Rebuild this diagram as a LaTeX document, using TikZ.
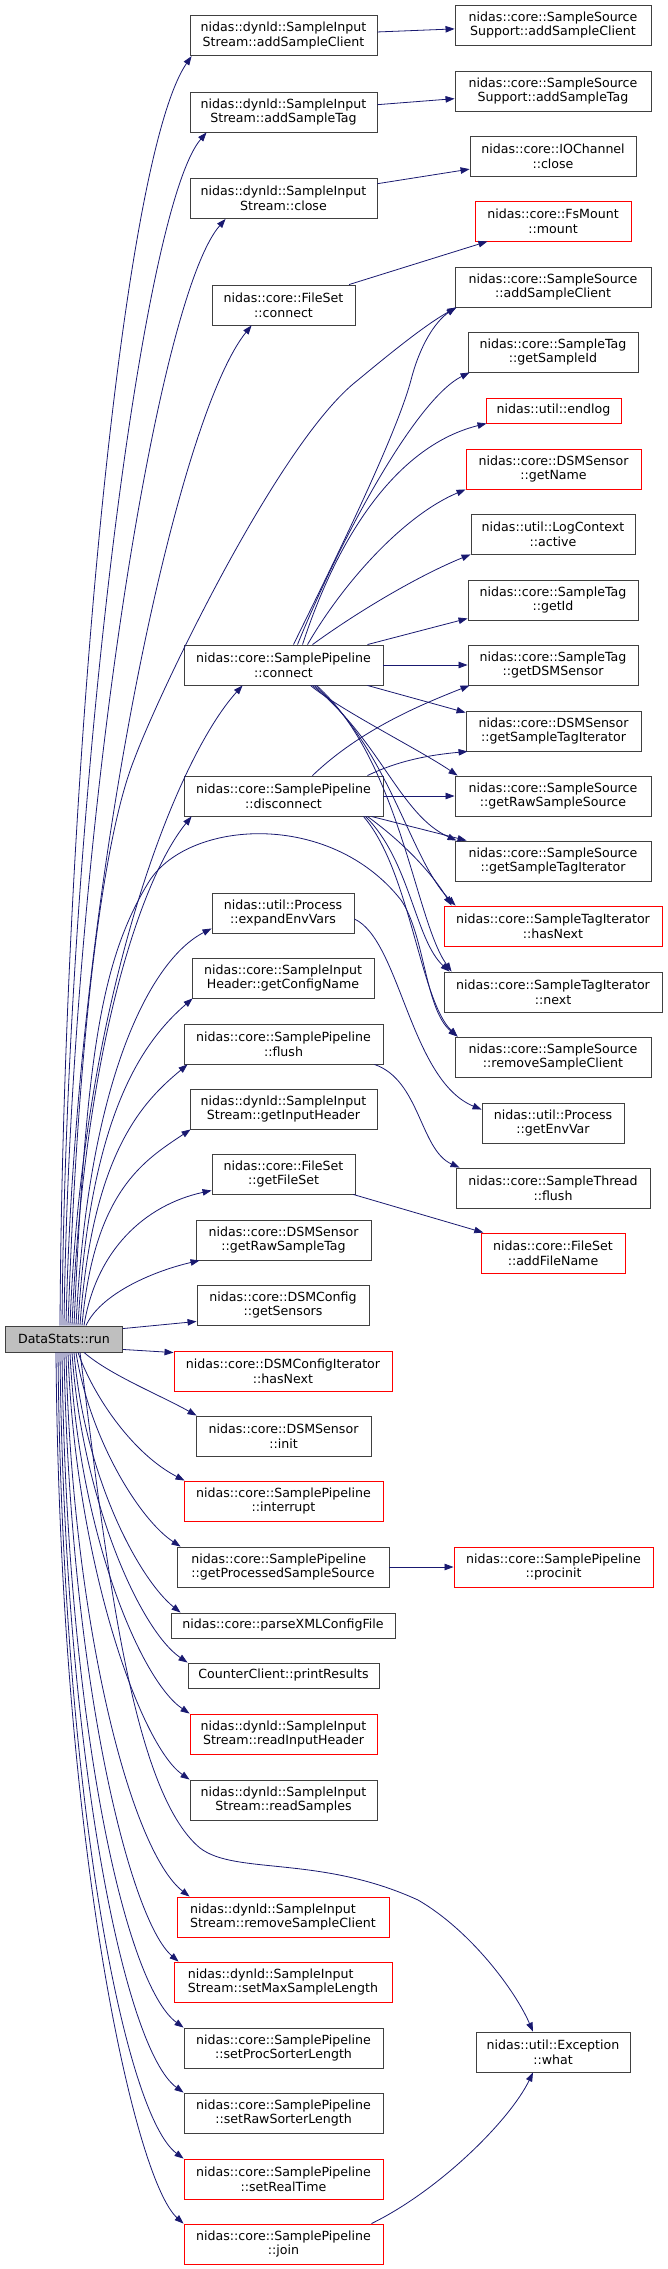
\documentclass[tikz,border=0pt]{standalone}
\usepackage{fontspec}
\setmainfont{DejaVu Sans}
\usetikzlibrary{arrows.meta}
\definecolor{edgec}{HTML}{191970}
\definecolor{boxc}{HTML}{404040}
\definecolor{redc}{HTML}{FF0000}
\definecolor{rootfill}{HTML}{BFBFBF}
\begin{document}
\begin{tikzpicture}[x=1pt,y=-1pt,
  fn/.style={draw=boxc, line width=0.9pt, fill=white, inner sep=0pt, align=center,
    minimum height=40pt, font=\fontsize{12.6pt}{14.7pt}\selectfont},
  fnl/.style={fn, align=left},
  single/.style={minimum height=25pt},
  redbox/.style={draw=redc},
  root/.style={fn, fill=rootfill, minimum height=26pt},
  conn/.style={draw=edgec, line width=0.8pt, -{Triangle[length=9pt,width=6.5pt]}}
]
\useasboundingbox (0,0) rectangle (667,2269);

% root
\node[root, minimum width=117pt] (L) at (64,1339) {DataStats::run};

% middle column
\node[fn, minimum width=187pt] (A1) at (283.5,35.7) {nidas::dynld::SampleInput\\Stream::addSampleClient};
\node[fn, minimum width=187pt] (A2) at (283.5,112) {nidas::dynld::SampleInput\\Stream::addSampleTag};
\node[fn, minimum width=187pt] (A3) at (283.5,198.5) {nidas::dynld::SampleInput\\Stream::close};
\node[fn, minimum width=143pt] (A4) at (283.5,305) {nidas::core::FileSet\\::connect};
\node[fn, minimum width=199pt] (A5) at (283.5,665) {nidas::core::SamplePipeline\\::connect};
\node[fn, minimum width=199pt] (A6) at (283.5,796) {nidas::core::SamplePipeline\\::disconnect};
\node[fn, minimum width=142pt] (A7) at (283,913) {nidas::util::Process\\::expandEnvVars};
\node[fn, minimum width=182pt] (A8) at (283,978) {nidas::core::SampleInput\\Header::getConfigName};
\node[fn, minimum width=199pt] (A9) at (283.5,1044) {nidas::core::SamplePipeline\\::flush};
\node[fn, minimum width=187pt] (A10) at (283.5,1109) {nidas::dynld::SampleInput\\Stream::getInputHeader};
\node[fn, minimum width=143pt] (A11) at (283.5,1174) {nidas::core::FileSet\\::getFileSet};
\node[fn, minimum width=175pt] (A12) at (283.5,1240) {nidas::core::DSMSensor\\::getRawSampleTag};
\node[fn, minimum width=172pt] (A13) at (283,1305) {nidas::core::DSMConfig\\::getSensors};
\node[fn, redbox, minimum width=218pt] (A14) at (283,1371) {nidas::core::DSMConfigIterator\\::hasNext};
\node[fn, minimum width=175pt] (A15) at (283.5,1436) {nidas::core::DSMSensor\\::init};
\node[fn, redbox, minimum width=199pt] (A16) at (283.5,1501) {nidas::core::SamplePipeline\\::interrupt};
\node[fnl, minimum width=212pt] (A17) at (283,1567) {nidas::core::SamplePipeline\\::getProcessedSampleSource};
\node[fn, single, minimum width=224pt] (A18) at (283,1625.5) {nidas::core::parseXMLConfigFile};
\node[fn, single, minimum width=191pt] (A19) at (283.5,1675.5) {CounterClient::printResults};
\node[fn, redbox, minimum width=187pt] (A20) at (283.5,1734) {nidas::dynld::SampleInput\\Stream::readInputHeader};
\node[fn, minimum width=187pt] (A21) at (283.5,1800) {nidas::dynld::SampleInput\\Stream::readSamples};
\node[fnl, redbox, minimum width=212pt] (A22) at (283,1917) {nidas::dynld::SampleInput\\Stream::removeSampleClient};
\node[fnl, redbox, minimum width=218pt] (A23) at (283,1982) {nidas::dynld::SampleInput\\Stream::setMaxSampleLength};
\node[fn, minimum width=199pt] (A24) at (283.5,2048) {nidas::core::SamplePipeline\\::setProcSorterLength};
\node[fn, minimum width=199pt] (A25) at (283.5,2113) {nidas::core::SamplePipeline\\::setRawSorterLength};
\node[fn, redbox, minimum width=199pt] (A26) at (283.5,2179) {nidas::core::SamplePipeline\\::setRealTime};
\node[fn, redbox, minimum width=199pt] (A27) at (283.5,2244) {nidas::core::SamplePipeline\\::join};

% right column
\node[fn, minimum width=196pt] (R1) at (553,25) {nidas::core::SampleSource\\Support::addSampleClient};
\node[fn, minimum width=196pt] (R2) at (553,91) {nidas::core::SampleSource\\Support::addSampleTag};
\node[fn, minimum width=166pt] (R3) at (553,156) {nidas::core::IOChannel\\::close};
\node[fn, redbox, minimum width=156pt] (R4) at (553,221) {nidas::core::FsMount\\::mount};
\node[fn, minimum width=196pt] (R5) at (553,287) {nidas::core::SampleSource\\::addSampleClient};
\node[fn, minimum width=170pt] (R6) at (553,352) {nidas::core::SampleTag\\::getSampleId};
\node[fn, single, redbox, minimum width=135pt] (R7) at (553.5,410.5) {nidas::util::endlog};
\node[fn, redbox, minimum width=175pt] (R8) at (553.5,469) {nidas::core::DSMSensor\\::getName};
\node[fn, minimum width=164pt] (R9) at (553,534) {nidas::util::LogContext\\::active};
\node[fn, minimum width=170pt] (R10) at (553,600) {nidas::core::SampleTag\\::getId};
\node[fn, minimum width=170pt] (R11) at (553,665) {nidas::core::SampleTag\\::getDSMSensor};
\node[fn, minimum width=175pt] (R12) at (553.5,731) {nidas::core::DSMSensor\\::getSampleTagIterator};
\node[fn, minimum width=196pt] (R13) at (553,796) {nidas::core::SampleSource\\::getRawSampleSource};
\node[fn, minimum width=196pt] (R14) at (553,861) {nidas::core::SampleSource\\::getSampleTagIterator};
\node[fn, redbox, minimum width=218pt] (R15) at (553,926) {nidas::core::SampleTagIterator\\::hasNext};
\node[fn, minimum width=218pt] (R16) at (553,992) {nidas::core::SampleTagIterator\\::next};
\node[fn, minimum width=196pt] (R17) at (553,1057) {nidas::core::SampleSource\\::removeSampleClient};
\node[fn, minimum width=142pt] (R18) at (553,1123) {nidas::util::Process\\::getEnvVar};
\node[fn, minimum width=194pt] (R19) at (553,1188) {nidas::core::SampleThread\\::flush};
\node[fn, redbox, minimum width=144pt] (R20) at (553,1253) {nidas::core::FileSet\\::addFileName};
\node[fn, redbox, minimum width=199pt] (R21) at (553.5,1567) {nidas::core::SamplePipeline\\::procinit};
\node[fn, minimum width=154pt] (R22) at (553,2052) {nidas::util::Exception\\::what};

% root -> upper nodes
\draw[conn] ([xshift=-4pt]L.north) .. controls (63,800) and (120,160) .. ([xshift=2pt]A1.south west);
\draw[conn] ([xshift=-2pt]L.north) .. controls (66,820) and (140,210) .. ([xshift=17pt]A2.south west);
\draw[conn] (L.north) .. controls (70,850) and (155,300) .. ([xshift=36pt]A3.south west);
\draw[conn] ([xshift=2pt]L.north) .. controls (75,900) and (175,420) .. ([xshift=40pt]A4.south west);
\draw[conn] ([xshift=4pt]L.north) .. controls (80,980) and (110,820) .. (134,760) .. controls (160,690) and (280,440) .. (358,380) .. controls (400,345) and (430,322) .. ([xshift=2pt]R5.south west);
\draw[conn] ([xshift=6pt]L.north) .. controls (82,1000) and (175,760) .. ([xshift=59pt]A5.south west);
\draw[conn] ([xshift=8pt]L.north) .. controls (84,1050) and (140,880) .. ([xshift=8pt]A6.south west);
\draw[conn] ([xshift=10pt]L.north) .. controls (86,1060) and (100,960) .. (150,880) .. controls (190,820) and (330,810) .. (401,900) .. controls (425,935) and (425,1010) .. ([xshift=3pt]R17.north west);
\draw[conn] ([xshift=12pt]L.north) .. controls (88,1080) and (150,960) .. ([yshift=5pt]A7.south west);
\draw[conn] ([xshift=14pt]L.north) .. controls (90,1110) and (145,1040) .. ([xshift=1pt]A8.south west);
\draw[conn] ([xshift=16pt]L.north) .. controls (92,1150) and (145,1100) .. ([xshift=4pt]A9.south west);
\draw[conn] ([xshift=18pt]L.north) .. controls (94,1190) and (145,1160) .. ([xshift=1pt]A10.south west);
\draw[conn] ([xshift=20pt]L.north) .. controls (96,1250) and (145,1205) .. ([yshift=4pt]A11.south west);
\draw[conn] ([xshift=22pt]L.north) .. controls (100,1295) and (150,1272) .. ([xshift=4pt]A12.south west);
\draw[conn] ([yshift=-3pt]L.north east) -- ([yshift=4pt]A13.south west);
\draw[conn] ([yshift=3pt]L.south east) -- ([yshift=-2pt]A14.north west);

% root -> lower nodes
\draw[conn] ([xshift=20pt]L.south) .. controls (110,1375) and (160,1395) .. ([xshift=1pt]A15.north west);
\draw[conn] ([xshift=14pt]L.south) .. controls (95,1400) and (135,1455) .. ([xshift=1pt]A16.north west);
\draw[conn] ([xshift=12pt]L.south) .. controls (90,1440) and (140,1520) .. ([xshift=4pt]A17.north west);
\draw[conn] ([xshift=10pt]L.south) .. controls (85,1480) and (140,1580) .. ([xshift=10pt]A18.north west);
\draw[conn] ([xshift=8pt]L.south) .. controls (82,1500) and (140,1630) .. (A19.north west);
\draw[conn] ([xshift=6pt]L.south) .. controls (78,1530) and (140,1680) .. (A20.north west);
\draw[conn] ([xshift=4pt]L.south) .. controls (75,1560) and (140,1745) .. (A21.north west);
\draw[conn] ([xshift=16pt]L.south) .. controls (105,1550) and (130,1790) .. (200,1848) .. controls (235,1875) and (320,1855) .. (418,1900) .. controls (470,1930) and (515,1990) .. ([xshift=-20pt]R22.north);
\draw[conn] ([xshift=2pt]L.south) .. controls (72,1620) and (130,1850) .. ([xshift=13pt]A22.north west);
\draw[conn] (L.south) .. controls (70,1680) and (130,1920) .. ([xshift=5pt]A23.north west);
\draw[conn] ([xshift=-2pt]L.south) .. controls (66,1720) and (125,1985) .. (A24.north west);
\draw[conn] ([xshift=-4pt]L.south) .. controls (64,1760) and (125,2050) .. (A25.north west);
\draw[conn] ([xshift=-6pt]L.south) .. controls (62,1800) and (125,2115) .. (A26.north west);
\draw[conn] ([xshift=-8pt]L.south) .. controls (60,1850) and (135,2180) .. (A27.north west);

% middle -> right straight
\draw[conn] (A1) -- (R1);
\draw[conn] (A2) -- (R2);
\draw[conn] (A3) -- (R3);
\draw[conn] (A4) -- (R4);
\draw[conn] (A11) -- (R20);
\draw[conn] (A17) -- (R21);

% connect
\draw[conn] ([xshift=10pt]A5.north) .. controls (325,580) and (395,440) .. (411,380) .. controls (420,345) and (435,322) .. ([xshift=1pt]R5.south west);
\draw[conn] ([xshift=14pt]A5.north) .. controls (340,540) and (415,400) .. ([xshift=2pt]R6.south west);
\draw[conn] ([xshift=19pt]A5.north) .. controls (340,530) and (400,445) .. ([xshift=1pt]R7.south west);
\draw[conn] ([xshift=24pt]A5.north) .. controls (345,580) and (405,515) .. (R8.south west);
\draw[conn] ([xshift=29pt]A5.north) .. controls (360,610) and (420,575) .. (R9.south west);
\draw[conn] ([xshift=-16pt]A5.north east) -- ([yshift=2pt]R10.south west);
\draw[conn] (A5.east) -- (R11.west);
\draw[conn] ([xshift=-16pt]A5.south east) -- ([yshift=-2pt]R12.north west);
\draw[conn] ([xshift=27pt]A5.south) .. controls (340,710) and (420,750) .. ([xshift=3pt]R13.north west);
\draw[conn] ([xshift=29pt]A5.south) .. controls (380,740) and (400,815) .. ([xshift=2pt]R14.north west);
\draw[conn] ([xshift=31pt]A5.south) .. controls (390,750) and (410,860) .. ([xshift=12pt]R15.north west);
\draw[conn] ([xshift=33pt]A5.south) .. controls (400,760) and (415,920) .. ([xshift=8pt]R16.north west);

% disconnect
\draw[conn] ([xshift=29pt]A6.north) .. controls (360,730) and (420,705) .. ([xshift=2pt]R11.south west);
\draw[conn] ([xshift=-16pt]A6.north east) .. controls (400,760) and (430,755) .. ([xshift=2pt]R12.south west);
\draw[conn] (A6.east) -- (R13.west);
\draw[conn] ([xshift=-12pt]A6.south east) -- ([xshift=12pt]R14.north west);
\draw[conn] ([xshift=-16pt]A6.south east) .. controls (400,840) and (430,870) .. ([xshift=8pt]R15.north west);
\draw[conn] ([xshift=-18pt]A6.south east) .. controls (410,860) and (415,940) .. ([xshift=6pt]R16.north west);
\draw[conn] ([xshift=-20pt]A6.south east) .. controls (410,870) and (420,1000) .. ([xshift=3pt]R17.north west);

% others
\draw[conn] ([yshift=-6pt]A7.east) .. controls (400,940) and (410,1080) .. ([yshift=-7pt]R18.north west);
\draw[conn] ([xshift=-9pt]A9.south east) .. controls (420,1080) and (420,1150) .. ([xshift=4pt]R19.north west);
\draw[conn] ([xshift=-12pt]A27.north east) .. controls (440,2190) and (510,2120) .. ([xshift=-20pt]R22.south);
\end{tikzpicture}
\end{document}
